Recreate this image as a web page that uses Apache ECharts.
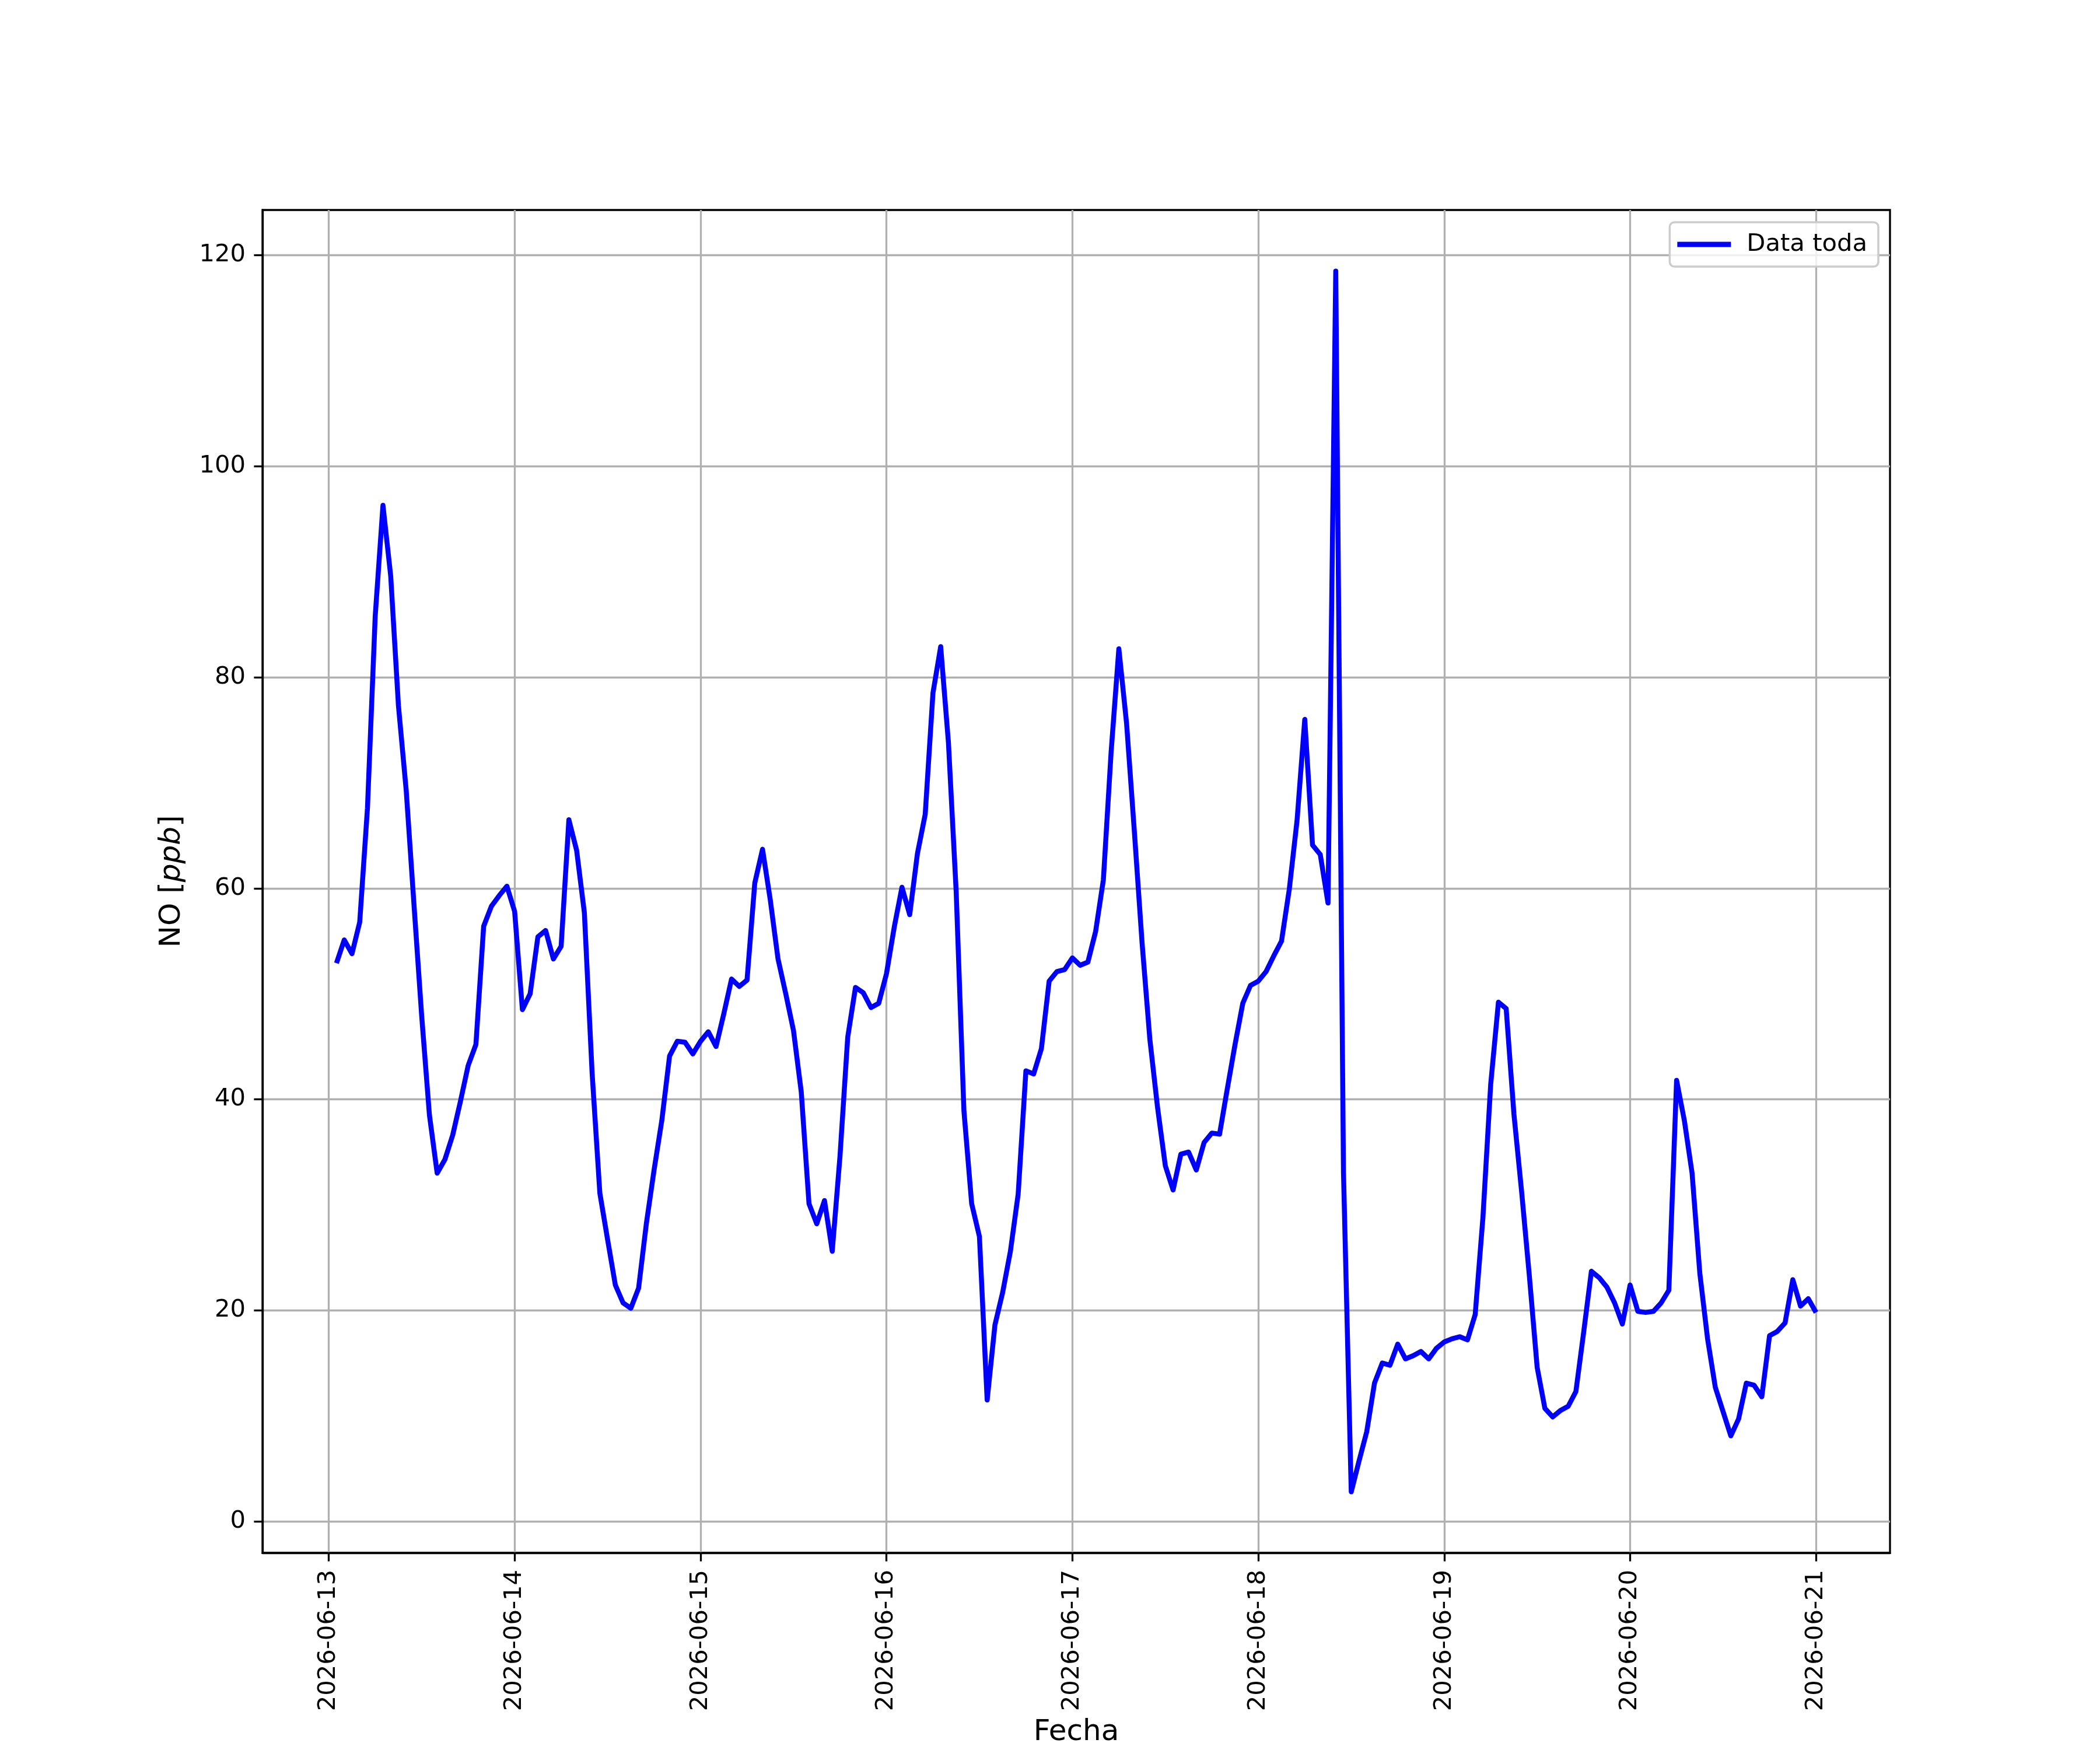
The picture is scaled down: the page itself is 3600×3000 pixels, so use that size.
<!DOCTYPE html>
<html>
<head>
<meta charset="utf-8">
<script src="https://cdn.jsdelivr.net/npm/echarts@6/dist/echarts.min.js"></script>
<style>
html, body { margin: 0; padding: 0; background: #ffffff; }
#chart { width: 3600px; height: 3000px; }
</style>
</head>
<body>
<div id="chart"></div>
<script>
// Hourly NO readings, first reading at 2026-06-13 01:00, last at 2026-06-21 00:00
const firstHour = 1; // hours after 2026-06-13 00:00
const noValues = [
  52.9, 55.1, 53.8, 56.8, 67.6, 85.8, 96.3, 89.6, 77.3, 69.3, 58.5, 47.9,
  38.5, 33.0, 34.3, 36.6, 39.8, 43.2, 45.2, 56.4, 58.3, 59.3, 60.2, 57.8,
  48.5, 50.0, 55.4, 56.0, 53.3, 54.5, 66.5, 63.6, 57.7, 42.5, 31.1, 26.7,
  22.4, 20.7, 20.2, 22.1, 28.2, 33.3, 38.0, 44.1, 45.5, 45.4, 44.3, 45.5,
  46.4, 45.0, 48.1, 51.4, 50.7, 51.3, 60.5, 63.7, 58.9, 53.3, 50.0, 46.5,
  40.7, 30.1, 28.2, 30.4, 25.6, 34.6, 45.9, 50.6, 50.1, 48.7, 49.1, 51.9,
  56.3, 60.1, 57.5, 63.3, 67.0, 78.5, 82.9, 73.8, 59.7, 38.9, 30.1, 27.0,
  11.5, 18.6, 21.7, 25.6, 31.0, 42.7, 42.4, 44.8, 51.2, 52.1, 52.3, 53.4,
  52.7, 53.0, 55.9, 60.8, 72.9, 82.7, 75.6, 65.4, 54.8, 45.7, 39.2, 33.7,
  31.4, 34.8, 35.0, 33.3, 35.9, 36.8, 36.7, 41.0, 45.2, 49.1, 50.8, 51.2,
  52.1, 53.6, 55.0, 59.9, 66.4, 76.0, 64.1, 63.2, 58.6, 118.5, 33.0, 2.8,
  5.7, 8.5, 13.1, 15.0, 14.8, 16.8, 15.4, 15.7, 16.1, 15.4, 16.4, 17.0,
  17.3, 17.5, 17.2, 19.6, 28.8, 41.4, 49.2, 48.6, 38.6, 31.2, 23.2, 14.6,
  10.7, 9.9, 10.5, 10.9, 12.3, 17.9, 23.7, 23.1, 22.2, 20.7, 18.7, 22.4,
  19.9, 19.8, 19.9, 20.7, 21.9, 41.8, 38.0, 33.0, 23.5, 17.3, 12.7, 10.4,
  8.1, 9.7, 13.1, 12.9, 11.8, 17.6, 18.0, 18.8, 22.9, 20.4, 21.1, 19.8
];
const dateTicks = ['2026-06-13', '2026-06-14', '2026-06-15', '2026-06-16', '2026-06-17',
                   '2026-06-18', '2026-06-19', '2026-06-20', '2026-06-21'];
const yTicks = [0, 20, 40, 60, 80, 100, 120];
const seriesName = 'Data toda';

const points = noValues.map((v, i) => [firstHour + i, v]);
const xFirst = firstHour, xLast = firstHour + noValues.length - 1;
const xPad = 0.05 * (xLast - xFirst);
const yMinV = Math.min(...noValues), yMaxV = Math.max(...noValues);
const yPad = 0.05 * (yMaxV - yMinV);
const dayTickPositions = dateTicks.map((d, i) => i * 24);

const FONT = 'DejaVu Sans';
const chart = echarts.init(document.getElementById('chart'), null, { renderer: 'canvas', width: 3600, height: 3000 });
chart.setOption({
  animation: false,
  backgroundColor: '#ffffff',
  grid: { left: 450, right: 360, top: 360, bottom: 330, show: true, borderColor: '#000000', borderWidth: 3.3, backgroundColor: 'transparent' },
  legend: {
    show: true,
    right: 380, top: 381,
    icon: 'rect', itemWidth: 92, itemHeight: 9,
    padding: [17, 19, 17, 13],
    backgroundColor: 'rgba(255,255,255,0.8)',
    borderColor: '#cccccc', borderWidth: 3.5, borderRadius: 8,
    textStyle: { fontFamily: FONT, fontSize: 41.7, color: '#000000', padding: [0, 0, 0, 22] },
    data: [seriesName]
  },
  xAxis: {
    type: 'value',
    min: xFirst - xPad, max: xLast + xPad,
    name: 'Fecha', nameLocation: 'middle', nameGap: 283,
    nameTextStyle: { fontFamily: FONT, fontSize: 50, color: '#000000' },
    axisLine: { show: true, onZero: false, lineStyle: { color: '#000000', width: 3.3 } },
    axisTick: { show: true, inside: false, length: 14.6, lineStyle: { color: '#000000', width: 3.3 }, customValues: dayTickPositions },
    axisLabel: {
      show: true, rotate: 90, margin: 29, fontFamily: FONT, fontSize: 41.7, color: '#000000',
      customValues: dayTickPositions, hideOverlap: false,
      formatter: v => dateTicks[Math.round(v / 24)]
    },
    splitLine: { show: true, lineStyle: { color: '#b0b0b0', width: 3.3 } }
  },
  yAxis: {
    type: 'value',
    min: yMinV - yPad, max: yMaxV + yPad,
    name: 'NO [{i|ppb}]', nameLocation: 'middle', nameGap: 130, nameRotate: 90,
    nameTextStyle: { fontFamily: FONT, fontSize: 50, color: '#000000',
      rich: { i: { fontFamily: FONT, fontSize: 50, fontStyle: 'italic', color: '#000000' } } },
    axisLine: { show: true, onZero: false, lineStyle: { color: '#000000', width: 3.3 } },
    axisTick: { show: true, inside: false, length: 14.6, lineStyle: { color: '#000000', width: 3.3 }, customValues: yTicks },
    axisLabel: { show: true, margin: 29, fontFamily: FONT, fontSize: 41.7, color: '#000000', customValues: yTicks, hideOverlap: false },
    splitLine: { show: true, lineStyle: { color: '#b0b0b0', width: 3.3 } }
  },
  series: [{
    name: seriesName,
    type: 'line',
    data: points,
    symbol: 'none',
    showSymbol: false,
    smooth: false,
    lineStyle: { color: '#0000ff', width: 8.5, join: 'round', cap: 'butt' },
    itemStyle: { color: '#0000ff' },
    z: 3
  }]
});
</script>
</body>
</html>
